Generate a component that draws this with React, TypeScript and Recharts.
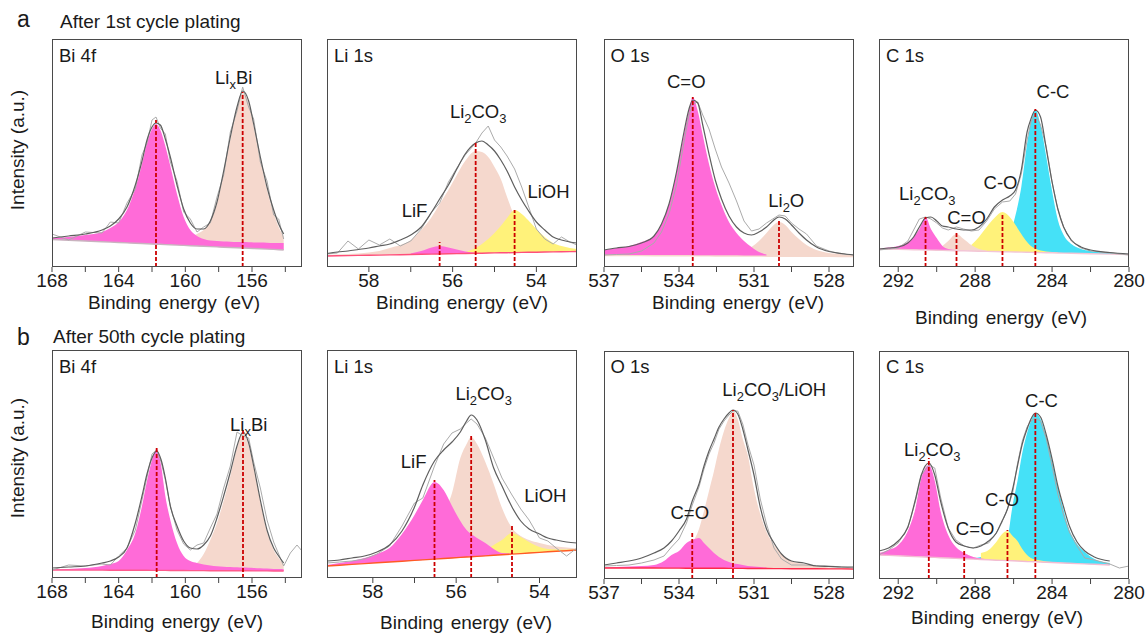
import React from 'react';
import { ComposedChart, Area, Line, XAxis, YAxis, ReferenceLine, ReferenceDot } from 'recharts';

type Num = number | null;
const _ = null;

// heights are in px above the bottom of each 228px-high frame

// ---- a: after 1st cycle, Bi 4f ----
const biA_E = [168, 167, 166, 165, 164.5, 164, 163.5, 163, 162.6, 162.3, 162, 161.76, 161.5, 161.2, 160.9, 160.5, 160.1, 159.7, 159.3, 158.9, 158.5, 158.1, 157.7, 157.3, 156.9, 156.56, 156.2, 155.9, 155.5, 155.1, 154.7, 154.4, 154.1];
const biA_base = [27.5, 26.7, 26, 25.2, 24.9, 24.5, 24.1, 23.7, 23.5, 23.2, 23, 22.8, 22.7, 22.4, 22.2, 21.9, 21.6, 21.3, 21, 20.7, 20.4, 20.1, 19.8, 19.5, 19.2, 19, 18.7, 18.5, 18.2, 17.9, 17.6, 17.3, 17];
const biA_bi162 = [29, 30, 32, 35, 39, 45, 57, 79, 103, 124, 138, 143, 137, 121, 101, 73, 50, 37, 31, 28, 26.5, 26, 25.5, 25.3, 25, 25, 24.8, 24.6, 24.4, 24.2, 24, 24, 24];
const biA_lixbi: Num[] = [_, _, _, _, _, _, _, _, _, _, _, _, 22.8, 22.8, 23.2, 24, 26, 29, 33, 37, 45, 63, 93, 127, 157, 174, 164, 140, 107, 77, 54, 40, 31];
const biA_env = [29, 31, 33, 37, 41, 48, 60, 82, 106, 127, 140, 144, 142, 128, 110, 82, 58, 44, 38, 38, 46, 65, 96, 130, 160, 176, 166, 143, 110, 80, 57, 43, 33];
const biA_raw = [33, 27, 35, 34, 45, 44, 64, 78, 112, 124, 147, 150, 139, 133, 105, 86, 55, 48, 35, 40, 44, 70, 92, 135, 156, 180, 160, 148, 105, 86, 52, 48, 28];
const biA_marks = [[161.76, 147], [156.56, 175]];
const biA_labels = [{ e: 157.1, h: 183, t: 'Li_xBi' }];

// ---- a: Li 1s ----
const liA_E = [59, 58.75, 58.5, 58.25, 58, 57.75, 57.5, 57.25, 57, 56.75, 56.5, 56.31, 56.1, 55.9, 55.7, 55.45, 55.3, 55.15, 55, 54.85, 54.7, 54.52, 54.35, 54.2, 54, 53.8, 53.6, 53.4, 53.2, 53.03];
const liA_base = [11, 11.2, 11.4, 11.6, 11.8, 11.9, 12.1, 12.3, 12.5, 12.7, 12.9, 13, 13.2, 13.4, 13.5, 13.7, 13.8, 14, 14.1, 14.2, 14.3, 14.4, 14.6, 14.7, 14.8, 15, 15.1, 15.3, 15.4, 15.5];
const liA_li2co3 = [12, 12.5, 13, 13.5, 14.5, 16, 19, 22, 27, 37, 50, 63, 77, 92, 106, 116, 115, 110, 100, 88, 70, 50, 35, 27, 20, 17.5, 16.5, 16, 15.8, 15.6];
const liA_lioh: Num[] = [_, _, _, _, _, _, _, _, _, _, _, _, _, _, 15, 19, 23, 28, 34, 41, 49, 57, 53, 47, 38, 30, 24, 21, 19, 18];
const liA_lif: Num[] = [_, _, _, _, _, _, _, _, 13.5, 16, 19.5, 21, 19.5, 17.5, 15.5, 14.2, _, _, _, _, _, _, _, _, _, _, _, _, _, _];
const liA_env = [13.5, 15, 16, 17.5, 19, 21, 23, 27, 32, 40, 55, 68, 82, 98, 113, 124, 126, 122, 116, 107, 96, 80, 67, 57, 45, 37, 30, 27, 25, 24];
const liA_raw = [13, 14, 26, 18, 27, 22, 28, 21, 26, 38, 55, 64, 85, 99, 112, 124, 134, 141, 127, 120, 111, 98, 80, 62, 38, 28, 23, 30, 25, 22];
const liA_marks = [[56.31, 25], [55.45, 124], [54.52, 57]];
const liA_labels = [{ e: 55.39, h: 149, t: 'Li_2CO_3' }, { e: 56.91, h: 50, t: 'LiF' }, { e: 53.71, h: 69, t: 'LiOH' }];

// ---- a: O 1s ----
const oA_E = [537, 536.5, 536, 535.5, 535, 534.7, 534.4, 534.1, 533.8, 533.6, 533.45, 533.25, 533.05, 532.8, 532.55, 532.3, 532, 531.7, 531.4, 531.1, 530.8, 530.5, 530.25, 530, 529.75, 529.5, 529.2, 528.9, 528.5, 528, 527.5, 527];
const oA_base = [11.5, 11.5, 11.4, 11.4, 11.3, 11.3, 11.3, 11.2, 11.2, 11.2, 11.1, 11.1, 11.1, 11.1, 11, 11, 11, 11, 10.9, 10.9, 10.9, 10.8, 10.8, 10.8, 10.8, 10.7, 10.7, 10.7, 10.6, 10.6, 10.5, 10.5];
const oA_co: Num[] = [17, 19, 21, 25, 31, 43, 63, 95, 133, 157, 170, 156, 132, 103, 80, 62, 45, 34, 26, 20, 15, 12.5, _, _, _, _, _, _, _, _, _, _];
const oA_li2o: Num[] = [_, _, _, _, _, _, _, _, _, _, _, _, _, _, _, _, 11.5, 13, 15, 20, 26, 34, 41, 45, 42, 35, 28, 22, 17, 14, 13, 12];
const oA_env = [17, 19, 20.5, 24, 31, 43, 63, 95, 135, 158, 167, 164, 142, 113, 87, 68, 51, 40, 34, 32, 35, 40, 46, 50, 48, 42, 34, 27, 20, 15.5, 13.5, 12];
const oA_raw = [12, 12.5, 13, 16, 24, 35, 53, 82, 125, 152, 163, 165, 152, 138, 118, 100, 84, 66, 46, 36, 38, 44, 48, 52, 51, 44, 38, 33, 21, 16, 13, 12];
const oA_marks = [[533.45, 170], [530.0, 48]];
const oA_labels = [{ e: 533.71, h: 179, t: 'C=O' }, { e: 529.71, h: 60, t: 'Li_2O' }];

// ---- a: C 1s ----
const cA_E = [293, 292.5, 292, 291.5, 291.2, 290.9, 290.58, 290.3, 290, 289.7, 289.4, 288.97, 288.6, 288.2, 287.8, 287.4, 287, 286.58, 286.2, 285.9, 285.6, 285.3, 285.1, 284.87, 284.6, 284.3, 284, 283.7, 283.4, 283, 282.5, 282, 281, 280];
const cA_base = [18, 17.8, 17.6, 17.4, 17.2, 17.1, 17, 16.9, 16.8, 16.6, 16.5, 16.3, 16.2, 16, 15.8, 15.6, 15.5, 15.3, 15.1, 15, 14.9, 14.7, 14.6, 14.5, 14.4, 14.3, 14.2, 14, 13.9, 13.7, 13.5, 13.3, 12.9, 12.5];
const cA_cc: Num[] = [_, _, _, _, _, _, _, _, _, _, _, _, _, _, _, 16, 17, 20, 32, 52, 80, 123, 145, 157, 142, 110, 76, 47, 32, 23, 18, 16, 14, 13];
const cA_cOh: Num[] = [_, _, _, _, _, _, _, _, _, _, _, _, _, 22, 30, 40, 49, 55, 50, 42, 33, 25, 21, 18.5, 16.5, 15.5, 15, 14.5, _, _, _, _, _, _];
const cA_cdo: Num[] = [_, _, _, _, _, _, _, _, 17.5, 21, 26, 33, 28, 22, 18, 16.5, _, _, _, _, _, _, _, _, _, _, _, _, _, _, _, _, _, _];
const cA_li2co3: Num[] = [18.5, 19.5, 21, 25, 30, 38, 50, 38, 29, 21, 18, 17, _, _, _, _, _, _, _, _, _, _, _, _, _, _, _, _, _, _, _, _, _, _];
const cA_env = [18, 19, 20, 24, 30, 40, 49, 50, 46, 41, 40, 38, 37, 37, 40, 48, 60, 67, 71, 77, 97, 135, 148, 157, 150, 118, 85, 58, 40, 27, 20, 17, 14.5, 13];
const cA_raw = [17, 18, 19, 26, 37, 48, 50, 48, 44, 39, 37, 40, 38, 36, 37, 46, 58, 65, 66, 73, 93, 127, 145, 153, 142, 120, 85, 58, 40, 26, 19, 16, 14, 12];
const cA_marks = [[290.58, 50], [288.97, 36], [286.58, 53], [284.87, 158]];
const cA_labels = [{ e: 290.49, h: 67, t: 'Li_2CO_3' }, { e: 288.45, h: 43, t: 'C=O' }, { e: 286.68, h: 78, t: 'C-O' }, { e: 283.95, h: 169, t: 'C-C' }];

// ---- b: after 50th cycle, Bi 4f ----
const biB_E = [168, 167, 166, 165, 164.5, 164, 163.5, 163, 162.6, 162.3, 162, 161.72, 161.45, 161.2, 160.9, 160.5, 160.1, 159.7, 159.3, 158.9, 158.5, 158.1, 157.7, 157.3, 156.9, 156.54, 156.2, 155.9, 155.5, 155.1, 154.7, 154.4, 154.1, 153.7, 153.3, 153];
const biB_base: Num[] = [8, 8, 7.9, 7.9, 7.8, 7.8, 7.8, 7.7, 7.7, 7.7, 7.6, 7.6, 7.6, 7.6, 7.5, 7.5, 7.5, 7.4, 7.4, 7.4, 7.3, 7.3, 7.3, 7.2, 7.2, 7.2, 7.2, 7.1, 7.1, 7.1, 7, 7, 7, _, _, _];
const biB_bi162: Num[] = [8.5, 9, 10, 12, 14, 17, 28, 45, 72, 97, 118, 129, 112, 82, 58, 35, 22, 17, 15, 13.5, 12.5, 11.8, 11.3, 11, 10.7, 10.4, 10.2, 10, 9.7, 9.4, 9.1, 8.9, 8.7, _, _, _];
const biB_lixbi: Num[] = [_, _, _, _, _, _, _, _, _, _, _, _, _, _, _, 7.6, 9, 11, 15, 24, 38, 55, 77, 102, 130, 145, 132, 110, 76, 46, 28, 20, 14, _, _, _];
const biB_env: Num[] = [10, 11, 12, 15, 17, 21, 30, 55, 82, 104, 120, 127, 118, 100, 72, 52, 37, 30, 29, 33, 42, 60, 82, 106, 132, 146, 135, 112, 78, 48, 30, 22, 15, _, _, _];
const biB_raw = [8, 13, 12, 14, 13, 22, 30, 48, 78, 101, 124, 128, 116, 98, 72, 48, 34, 28, 33, 35, 50, 64, 90, 112, 146, 142, 140, 116, 90, 58, 36, 24, 12, 25, 33, 27];
const biB_marks = [[161.72, 130], [156.54, 149]];
const biB_labels = [{ e: 156.2, h: 147, t: 'Li_xBi' }];

// ---- b: Li 1s ----
const liB_E = [59.1, 58.8, 58.5, 58.2, 57.9, 57.6, 57.3, 57.0, 56.8, 56.52, 56.3, 56.1, 55.9, 55.75, 55.64, 55.5, 55.3, 55.1, 54.9, 54.66, 54.45, 54.25, 54.0, 53.8, 53.6, 53.35, 53.1];
const liB_base = [12, 12.8, 13.6, 14.4, 15.2, 16, 16.8, 17.6, 18.1, 18.9, 19.5, 20, 20.6, 21, 21.2, 21.6, 22.1, 22.7, 23.2, 23.9, 24.4, 25, 25.6, 26.2, 26.7, 27.3, 28];
const liB_li2co3: Num[] = [_, _, _, _, _, _, _, 22, 28, 45, 65, 85, 120, 134, 141, 134, 116, 94, 70, 50, 42, 38, 35, 33, 31.5, 30.5, 29.5];
const liB_lioh: Num[] = [_, _, _, _, _, _, _, _, _, _, _, _, _, 22, 23, 25, 28, 33, 38, 45, 41, 36, 31, 29, 28.5, 28.5, 28.5];
const liB_lif: Num[] = [13, 15, 17, 20, 24, 30, 44, 63, 78, 96, 88, 72, 57, 48, 44, 40, 35, 29, 25, 24.5, _, _, _, _, _, _, _];
const liB_env = [17, 18, 20, 22, 26, 33, 47, 71, 93, 117, 128, 136, 146, 157, 163, 158, 138, 110, 92, 71, 57, 49, 44, 40, 38, 36, 35];
const liB_raw = [15, 16, 17, 19, 24, 32, 52, 75, 80, 112, 134, 145, 149, 155, 159, 154, 140, 120, 100, 83, 69, 58, 40, 37, 30, 22, 30];
const liB_marks = [[56.52, 98], [55.64, 142], [54.66, 53]];
const liB_labels = [{ e: 55.34, h: 178, t: 'Li_2CO_3' }, { e: 57.02, h: 110, t: 'LiF' }, { e: 53.86, h: 76, t: 'LiOH' }];

// ---- b: O 1s ----
const oB_E = [537, 536.5, 536, 535.5, 535, 534.6, 534.3, 534, 533.7, 533.47, 533.2, 533, 532.8, 532.6, 532.4, 532.2, 532, 531.84, 531.65, 531.45, 531.25, 531, 530.75, 530.5, 530.2, 529.9, 529.5, 529, 528.5, 528, 527.5, 527];
const oB_base = [11, 11, 11, 11, 11, 10.9, 10.9, 10.9, 10.8, 10.8, 10.8, 10.8, 10.7, 10.7, 10.7, 10.7, 10.6, 10.6, 10.6, 10.6, 10.5, 10.5, 10.5, 10.5, 10.4, 10.4, 10.3, 10.3, 10.2, 10.1, 10.1, 10];
const oB_main: Num[] = [_, _, _, _, _, 12, 14, 18, 26, 36, 50, 68, 88, 108, 130, 148, 161, 168, 160, 140, 124, 90, 65, 47, 34, 25, 18, 15, 13, 11.5, 11, 10.5];
const oB_co: Num[] = [11.5, 12, 12.5, 13, 14, 18, 24, 28, 36, 39, 41, 36, 31, 26, 22, 19, 17, 15.5, 15, 14, 13, 12.5, 12, 11.5, _, _, _, _, _, _, _, _];
const oB_env = [14, 16, 18, 21, 26, 31, 38, 48, 60, 78, 95, 113, 128, 140, 152, 160, 166, 169, 165, 150, 130, 104, 72, 50, 36, 25, 18, 16, 13, 12.5, 12, 12];
const oB_raw = [13, 13.5, 14, 16, 19, 23, 32, 40, 56, 74, 92, 110, 125, 136, 150, 158, 164, 168, 168, 155, 135, 114, 80, 55, 31, 20, 14, 14, 13.5, 13, 12, 11];
const oB_marks = [[533.47, 48], [531.84, 169]];
const oB_labels = [{ e: 530.19, h: 183, t: 'Li_2CO_3/LiOH' }, { e: 533.57, h: 60, t: 'C=O' }];

// ---- b: C 1s ----
const cB_E = [293, 292.5, 292, 291.5, 291.1, 290.8, 290.4, 290.1, 289.8, 289.4, 289, 288.57, 288.1, 287.7, 287.3, 286.9, 286.6, 286.32, 286.05, 285.8, 285.55, 285.3, 285.1, 284.87, 284.6, 284.3, 284, 283.7, 283.4, 283.1, 282.7, 282.3, 281.8, 281, 280.5, 280];
const cB_base: Num[] = [24, 23.6, 23.2, 22.8, 22.4, 22.2, 21.8, 21.6, 21.3, 21, 20.6, 20.3, 19.9, 19.5, 19.2, 18.8, 18.6, 18.4, 18.2, 18, 17.8, 17.5, 17.4, 17.2, 17, 16.7, 16.5, 16.2, 16, 15.7, 15.4, 15.1, 14.7, 14, _, _];
const cB_cc: Num[] = [_, _, _, _, _, _, _, _, _, _, _, _, 21, 22, 25, 30, 28, 40, 74, 98, 126, 146, 158, 166, 160, 142, 118, 92, 69, 49, 35, 27, 20, 16, _, _];
const cB_cOh: Num[] = [_, _, _, _, _, _, _, _, _, _, _, _, _, 26, 29, 37, 45, 48, 43, 38, 30, 24, 21, 19.5, 18.5, 17.5, 17, 16.5, _, _, _, _, _, _, _, _];
const cB_cdo: Num[] = [_, _, _, _, _, _, _, _, _, _, 21.5, 25, 22, 20, _, _, _, _, _, _, _, _, _, _, _, _, _, _, _, _, _, _, _, _, _, _];
const cB_li2co3: Num[] = [26, 29, 34, 48, 71, 101, 114, 98, 68, 44, 32, 26, 22, 20.5, 19.8, _, _, _, _, _, _, _, _, _, _, _, _, _, _, _, _, _, _, _, _, _];
const cB_env: Num[] = [28, 31, 38, 52, 80, 104, 116, 104, 78, 51, 37, 33, 31, 33, 38, 46, 58, 70, 90, 113, 135, 150, 160, 166, 162, 144, 120, 93, 72, 53, 37, 28, 22, 18, _, _];
const cB_raw = [24, 29, 36, 51, 78, 104, 114, 111, 82, 51, 39, 33, 31, 34, 36, 46, 57, 70, 86, 115, 138, 152, 158, 161, 158, 140, 113, 85, 64, 47, 33, 21, 19, 15, 11, 13];
const cB_marks = [[290.41, 121], [288.57, 29], [286.32, 49], [284.87, 168]];
const cB_labels = [{ e: 290.23, h: 123, t: 'Li_2CO_3' }, { e: 288.0, h: 44, t: 'C=O' }, { e: 286.6, h: 73, t: 'C-O' }, { e: 284.55, h: 172, t: 'C-C' }];

const biMajor = [168, 164, 160, 156];
const biMinor = [166, 162, 158, 154];
const liMajor = [58, 56, 54];
const liMinor = [57, 55];
const oMajor = [537, 534, 531, 528];
const oMinor = [535.5, 532.5, 529.5];
const cMajor = [292, 288, 284, 280];
const cMinor = [290, 286, 282];

const FONT = '"Liberation Sans", Arial, Helvetica, sans-serif';
const INK = '#1a1a1a';
const PINK = '#ff6bd8';
const PEACH = '#f5d8cd';
const YELLOW = '#fff27a';
const CYAN = '#45e1f7';
const RED = '#cc0000';

interface Comp { v: Num[]; color: string }
interface PanelDef {
  left: number; top: number; domain: [number, number];
  major: number[]; minor: number[]; title: string;
  E: number[]; base: Num[]; comps: Comp[]; env: Num[]; raw: Num[];
  baseColor: string; marks: number[][]; labels: { e: number; h: number; t: string }[];
  xlab?: [number, number];
}

const panels: PanelDef[] = [
  { left: 52, top: 39, domain: [153, 168], major: biMajor, minor: biMinor, title: 'Bi 4f', E: biA_E, base: biA_base,
    comps: [{ v: biA_lixbi, color: PEACH }, { v: biA_bi162, color: PINK }], env: biA_env, raw: biA_raw,
    baseColor: '#c9b3bf', marks: biA_marks, labels: biA_labels, xlab: [174, 309] },
  { left: 327, top: 39, domain: [53.03, 59], major: liMajor, minor: liMinor, title: 'Li 1s', E: liA_E, base: liA_base,
    comps: [{ v: liA_li2co3, color: PEACH }, { v: liA_lioh, color: YELLOW }, { v: liA_lif, color: PINK }], env: liA_env, raw: liA_raw,
    baseColor: '#ff4f7a', marks: liA_marks, labels: liA_labels, xlab: [462, 309] },
  { left: 603.5, top: 39, domain: [527, 537], major: oMajor, minor: oMinor, title: 'O 1s', E: oA_E, base: oA_base,
    comps: [{ v: oA_li2o, color: PEACH }, { v: oA_co, color: PINK }], env: oA_env, raw: oA_raw,
    baseColor: '#f5d8cd', marks: oA_marks, labels: oA_labels, xlab: [738, 309] },
  { left: 879, top: 39, domain: [280, 293], major: cMajor, minor: cMinor, title: 'C 1s', E: cA_E, base: cA_base,
    comps: [{ v: cA_cc, color: CYAN }, { v: cA_cOh, color: YELLOW }, { v: cA_cdo, color: PEACH }, { v: cA_li2co3, color: PINK }], env: cA_env, raw: cA_raw,
    baseColor: '#f3c6d6', marks: cA_marks, labels: cA_labels, xlab: [1001, 324] },
  { left: 52, top: 350, domain: [153, 168], major: biMajor, minor: biMinor, title: 'Bi 4f', E: biB_E, base: biB_base,
    comps: [{ v: biB_lixbi, color: PEACH }, { v: biB_bi162, color: PINK }], env: biB_env, raw: biB_raw,
    baseColor: '#ff5a8c', marks: biB_marks, labels: biB_labels, xlab: [177, 628] },
  { left: 327, top: 350, domain: [53.1, 59.1], major: liMajor, minor: liMinor, title: 'Li 1s', E: liB_E, base: liB_base,
    comps: [{ v: liB_li2co3, color: PEACH }, { v: liB_lioh, color: YELLOW }, { v: liB_lif, color: PINK }], env: liB_env, raw: liB_raw,
    baseColor: '#ff5a24', marks: liB_marks, labels: liB_labels, xlab: [466, 629] },
  { left: 603.5, top: 350.5, domain: [527, 537], major: oMajor, minor: oMinor, title: 'O 1s', E: oB_E, base: oB_base,
    comps: [{ v: oB_main, color: PEACH }, { v: oB_co, color: PINK }], env: oB_env, raw: oB_raw,
    baseColor: '#ff2a4a', marks: oB_marks, labels: oB_labels },
  { left: 879, top: 350.5, domain: [280, 293], major: cMajor, minor: cMinor, title: 'C 1s', E: cB_E, base: cB_base,
    comps: [{ v: cB_cc, color: CYAN }, { v: cB_cOh, color: YELLOW }, { v: cB_cdo, color: PEACH }, { v: cB_li2co3, color: PINK }], env: cB_env, raw: cB_raw,
    baseColor: '#f3bcd2', marks: cB_marks, labels: cB_labels, xlab: [997, 624] },
];

// "Li_2CO_3" -> Li, 2 (sub), CO, 3 (sub)
function splitSubs(s: string) {
  const parts: { t: string; sub: boolean }[] = [];
  let buf = '';
  for (let i = 0; i < s.length; i++) {
    if (s[i] === '_') {
      if (buf) parts.push({ t: buf, sub: false });
      buf = '';
      parts.push({ t: s[i + 1], sub: true });
      i++;
    } else buf += s[i];
  }
  if (buf) parts.push({ t: buf, sub: false });
  return parts;
}

function RichText({ x, y, text, size = 18.5, anchor = 'middle' }: { x: number; y: number; text: string; size?: number; anchor?: string }) {
  let shift = 0;
  return (
    <text x={x} y={y} textAnchor={anchor} fontFamily={FONT} fontSize={size} fill={INK}>
      {splitSubs(text).map((p, i) => {
        const dy = (p.sub ? 4.5 : 0) - shift;
        shift = p.sub ? 4.5 : 0;
        return <tspan key={i} dy={dy} fontSize={p.sub ? size * 0.7 : size}>{p.t}</tspan>;
      })}
    </text>
  );
}

const makeTick = (major: number[]) => (props: any) => {
  const { x, y, payload } = props;
  if (!major.includes(payload.value)) return <g />;
  return (
    <text x={x} y={y} dy="0.71em" textAnchor="middle" fontFamily={FONT} fontSize={19} fill={INK}>{payload.value}</text>
  );
};

function Panel({ p }: { p: PanelDef }) {
  const rows = p.E.map((x, i) => {
    const r: Record<string, Num> = { x, base: p.base[i], env: p.env[i], raw: p.raw[i] };
    p.comps.forEach((c, k) => { r['c' + k] = c.v[i]; });
    return r;
  });
  const ticks = [...p.major, ...p.minor].sort((a, b) => a - b);
  return (
    <div style={{ position: 'absolute', left: p.left - 20, top: p.top - 6 }}>
      <ComposedChart width={290} height={264} data={rows} margin={{ top: 6, right: 20, bottom: 0, left: 20 }}>
        <XAxis type="number" dataKey="x" domain={p.domain} reversed allowDataOverflow ticks={ticks} interval={0}
          tick={makeTick(p.major)} tickSize={5} tickMargin={2} tickLine={{ stroke: '#444' }} axisLine={false} height={30} />
        <YAxis hide type="number" domain={[0, 228]} allowDataOverflow />
        {p.comps.map((c, k) => (
          <Area key={'c' + k} type="monotone" dataKey={(d: any) => (d['c' + k] == null ? null : [d.base, d['c' + k]])}
            fill={c.color} fillOpacity={1} stroke="none" dot={false} activeDot={false} isAnimationActive={false} />
        ))}
        <Line type="linear" dataKey="base" stroke={p.baseColor} strokeWidth={1.4} dot={false} activeDot={false} isAnimationActive={false} />
        <Line type="linear" dataKey="raw" stroke="#ababab" strokeWidth={1} dot={false} activeDot={false} isAnimationActive={false} />
        <Line type="monotone" dataKey="env" stroke="#5e5e5e" strokeWidth={1.2} dot={false} activeDot={false} isAnimationActive={false} />
        {p.marks.map(([e, top], k) => (
          <ReferenceLine key={'m' + k} segment={[{ x: e, y: 0 }, { x: e, y: top }]} stroke={RED} strokeWidth={1.8} strokeDasharray="4 2" />
        ))}
        {p.labels.map((l, k) => (
          <ReferenceDot key={'l' + k} x={l.e} y={l.h} r={1}
            shape={(sp: any) => <RichText x={sp.cx} y={sp.cy} text={l.t} />} />
        ))}
      </ComposedChart>
    </div>
  );
}

export default function App() {
  return (
    <div style={{ position: 'absolute', left: 0, top: 0, width: 1145, height: 634, background: '#fff', overflow: 'hidden' }}>
      {panels.map((p, i) => <Panel key={i} p={p} />)}
      {panels.map((p, i) => (
        <div key={'f' + i} style={{ position: 'absolute', left: p.left, top: p.top, width: 250, height: 228,
          border: '1px solid #4a4a4a', boxSizing: 'border-box', pointerEvents: 'none' }} />
      ))}
      <svg width={1145} height={634} style={{ position: 'absolute', left: 0, top: 0, pointerEvents: 'none' }}>
        <text x={17} y={27} fontFamily={FONT} fontSize={23} fill={INK}>a</text>
        <text x={60} y={28} fontFamily={FONT} fontSize={19} fill={INK}>After 1st cycle plating</text>
        <text x={17} y={345} fontFamily={FONT} fontSize={23} fill={INK}>b</text>
        <text x={53} y={343} fontFamily={FONT} fontSize={19} fill={INK}>After 50th cycle plating</text>
        <text transform="translate(23.5,150) rotate(-90)" textAnchor="middle" fontFamily={FONT} fontSize={19} fill={INK}>Intensity (a.u.)</text>
        <text transform="translate(23.5,458) rotate(-90)" textAnchor="middle" fontFamily={FONT} fontSize={19} fill={INK}>Intensity (a.u.)</text>
        {panels.map((p, i) => (
          <text key={'t' + i} x={p.left + 7} y={p.top + 22.5} fontFamily={FONT} fontSize={18.5} fill={INK}>{p.title}</text>
        ))}
        {panels.map((p, i) => p.xlab ? (
          <text key={'x' + i} x={p.xlab[0]} y={p.xlab[1]} textAnchor="middle" fontFamily={FONT} fontSize={19} wordSpacing={2} fill={INK}>
            Binding energy (eV)
          </text>
        ) : null)}
      </svg>
    </div>
  );
}
